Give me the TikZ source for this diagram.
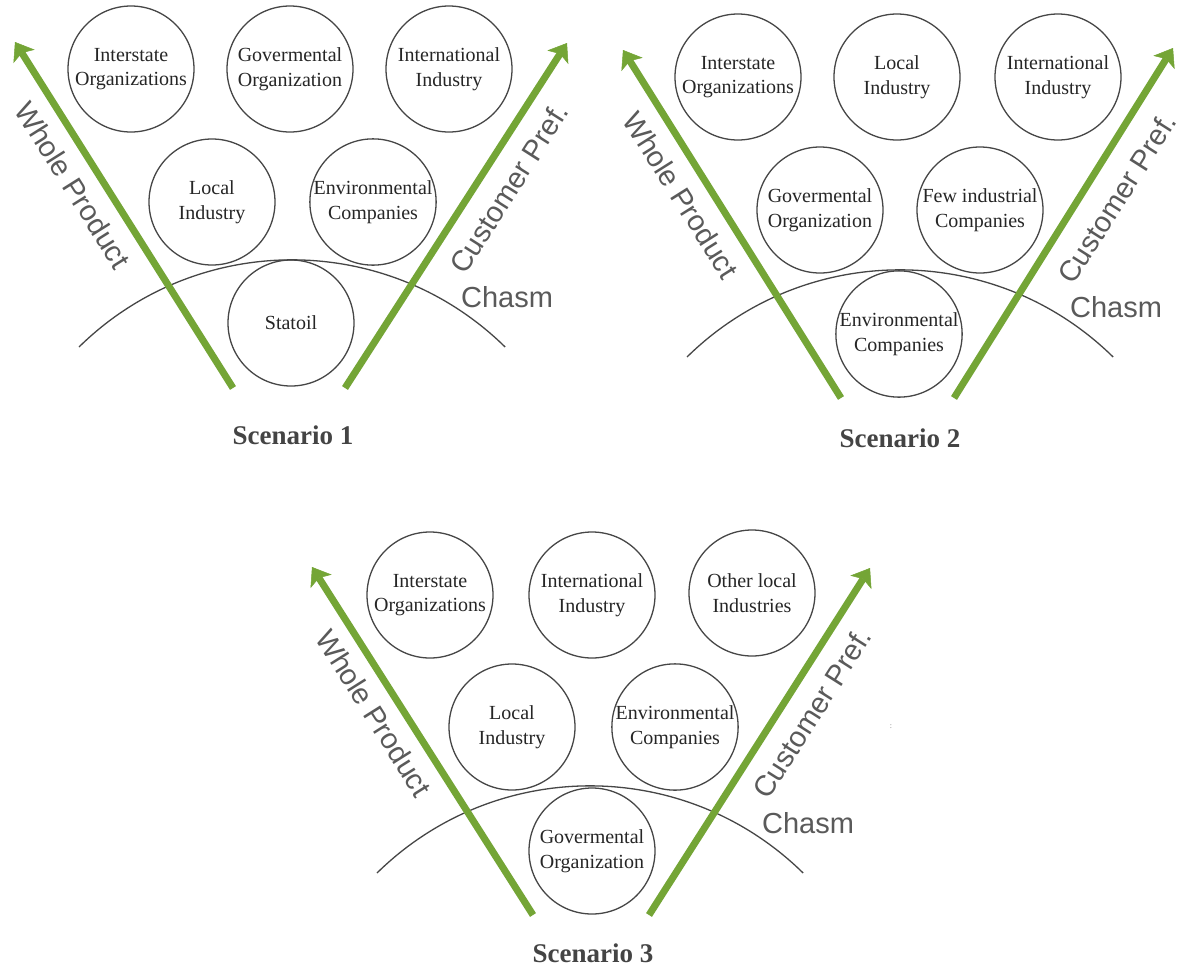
\documentclass[tikz,border=0pt]{standalone}
\usepackage{fontspec}
\setmainfont{Liberation Serif}
\newfontfamily\labelsans{Liberation Sans}
\usetikzlibrary{arrows.meta}
\definecolor{arrowgreen}{RGB}{116,165,54}
\definecolor{linegray}{RGB}{70,70,70}
\definecolor{labelgray}{RGB}{90,90,90}
\definecolor{titlegray}{RGB}{68,68,68}
\tikzset{
  grarrow/.style={draw=arrowgreen, line width=7pt,
    -{Stealth[length=17pt,width=25pt,inset=4pt,line width=0.5pt]}},
  org/.style={circle, draw=linegray, line width=1.3pt, minimum size=126pt,
    inner sep=0pt, align=center, font=\fontsize{20}{24.5}\selectfont, text=black!85},
  chasmline/.style={draw=linegray, line width=1.3pt},
  axislabel/.style={font=\labelsans\fontsize{29}{30}\selectfont, text=labelgray},
  scenlabel/.style={font=\bfseries\fontsize{27}{30}\selectfont, text=titlegray},
}
\begin{document}
\begin{tikzpicture}[x=1pt,y=-1pt]
\useasboundingbox (0,0) rectangle (1178,967);
\fill[white] (0,0) rectangle (1178,967);

% ---------------- Scenario 1 ----------------
\begin{scope}
  \coordinate (s1chL) at (79,347);
  \draw[chasmline] (s1chL) arc[start angle=225.5, end angle=314.5, radius=304];
  \coordinate (s1wpB) at (233,388); \coordinate (s1wpT) at (15,42);
  \coordinate (s1cpB) at (345,388); \coordinate (s1cpT) at (567,43);
  \draw[grarrow] (s1wpB) -- (s1wpT);
  \draw[grarrow] (s1cpB) -- (s1cpT);
  \node[org] (s1a) at (131,69) {Interstate\\Organizations};
  \node[org] (s1b) at (290,69) {Govermental\\Organization};
  \node[org] (s1c) at (449,69) {International\\Industry};
  \node[org] (s1d) at (212,202) {Local\\Industry};
  \node[org] (s1e) at (373,202) {Environmental\\Companies};
  \node[org] (s1f) at (291,323) {Statoil};
  \node[axislabel, rotate=-57.8] (s1wp) at (73,185) {Whole Product};
  \node[axislabel, rotate=57.5] (s1cp) at (509,188) {Customer Pref.};
  \node[axislabel] (s1ch) at (507,297) {Chasm};
  \node[scenlabel] (s1t) at (293,435) {Scenario 1};
\end{scope}

% ---------------- Scenario 2 ----------------
\begin{scope}[shift={(608,10)}]
  \coordinate (s2chL) at (79,347);
  \draw[chasmline] (s2chL) arc[start angle=225.5, end angle=314.5, radius=304];
  \coordinate (s2wpB) at (233,388); \coordinate (s2wpT) at (15,40);
  \coordinate (s2cpB) at (346,388); \coordinate (s2cpT) at (565,38);
  \draw[grarrow] (s2wpB) -- (s2wpT);
  \draw[grarrow] (s2cpB) -- (s2cpT);
  \node[org] (s2a) at (130,67) {Interstate\\Organizations};
  \node[org] (s2b) at (289,67) {Local\\Industry};
  \node[org] (s2c) at (450,67) {International\\Industry};
  \node[org] (s2d) at (212,200) {Govermental\\Organization};
  \node[org] (s2e) at (372,200) {Few industrial\\Companies};
  \node[org] (s2f) at (291,324) {Environmental\\Companies};
  \node[axislabel, rotate=-57.8] (s2wp) at (73,185) {Whole Product};
  \node[axislabel, rotate=57.5] (s2cp) at (509,188) {Customer Pref.};
  \node[axislabel] (s2ch) at (508,297) {Chasm};
  \node[scenlabel] (s2t) at (292,428) {Scenario 2};
\end{scope}

% ---------------- Scenario 3 ----------------
\begin{scope}[shift={(300,527)}]
  \coordinate (s3chL) at (77,346);
  \draw[chasmline] (s3chL) arc[start angle=225.5, end angle=314.5, radius=304];
  \coordinate (s3wpB) at (233,388); \coordinate (s3wpT) at (12,40);
  \coordinate (s3cpB) at (349,388); \coordinate (s3cpT) at (570,41);
  \draw[grarrow] (s3wpB) -- (s3wpT);
  \draw[grarrow] (s3cpB) -- (s3cpT);
  \node[org] (s3a) at (130,68) {Interstate\\Organizations};
  \node[org] (s3b) at (292,68) {International\\Industry};
  \node[org] (s3c) at (452,66) {Other local\\Industries};
  \node[org] (s3d) at (212,200) {Local\\Industry};
  \node[org] (s3e) at (375,200) {Environmental\\Companies};
  \node[org] (s3f) at (292,324) {Govermental\\Organization};
  \node[axislabel, rotate=-57.8] (s3wp) at (74,186) {Whole Product};
  \node[axislabel, rotate=57.5] (s3cp) at (512,186) {Customer Pref.};
  \node[axislabel] (s3ch) at (508,296) {Chasm};
  \node[scenlabel] (s3t) at (293,426) {Scenario 3};
\end{scope}

\node[text=gray, font=\fontsize{8}{8}\selectfont] (dots) at (891,727) {:};
\end{tikzpicture}
\end{document}
